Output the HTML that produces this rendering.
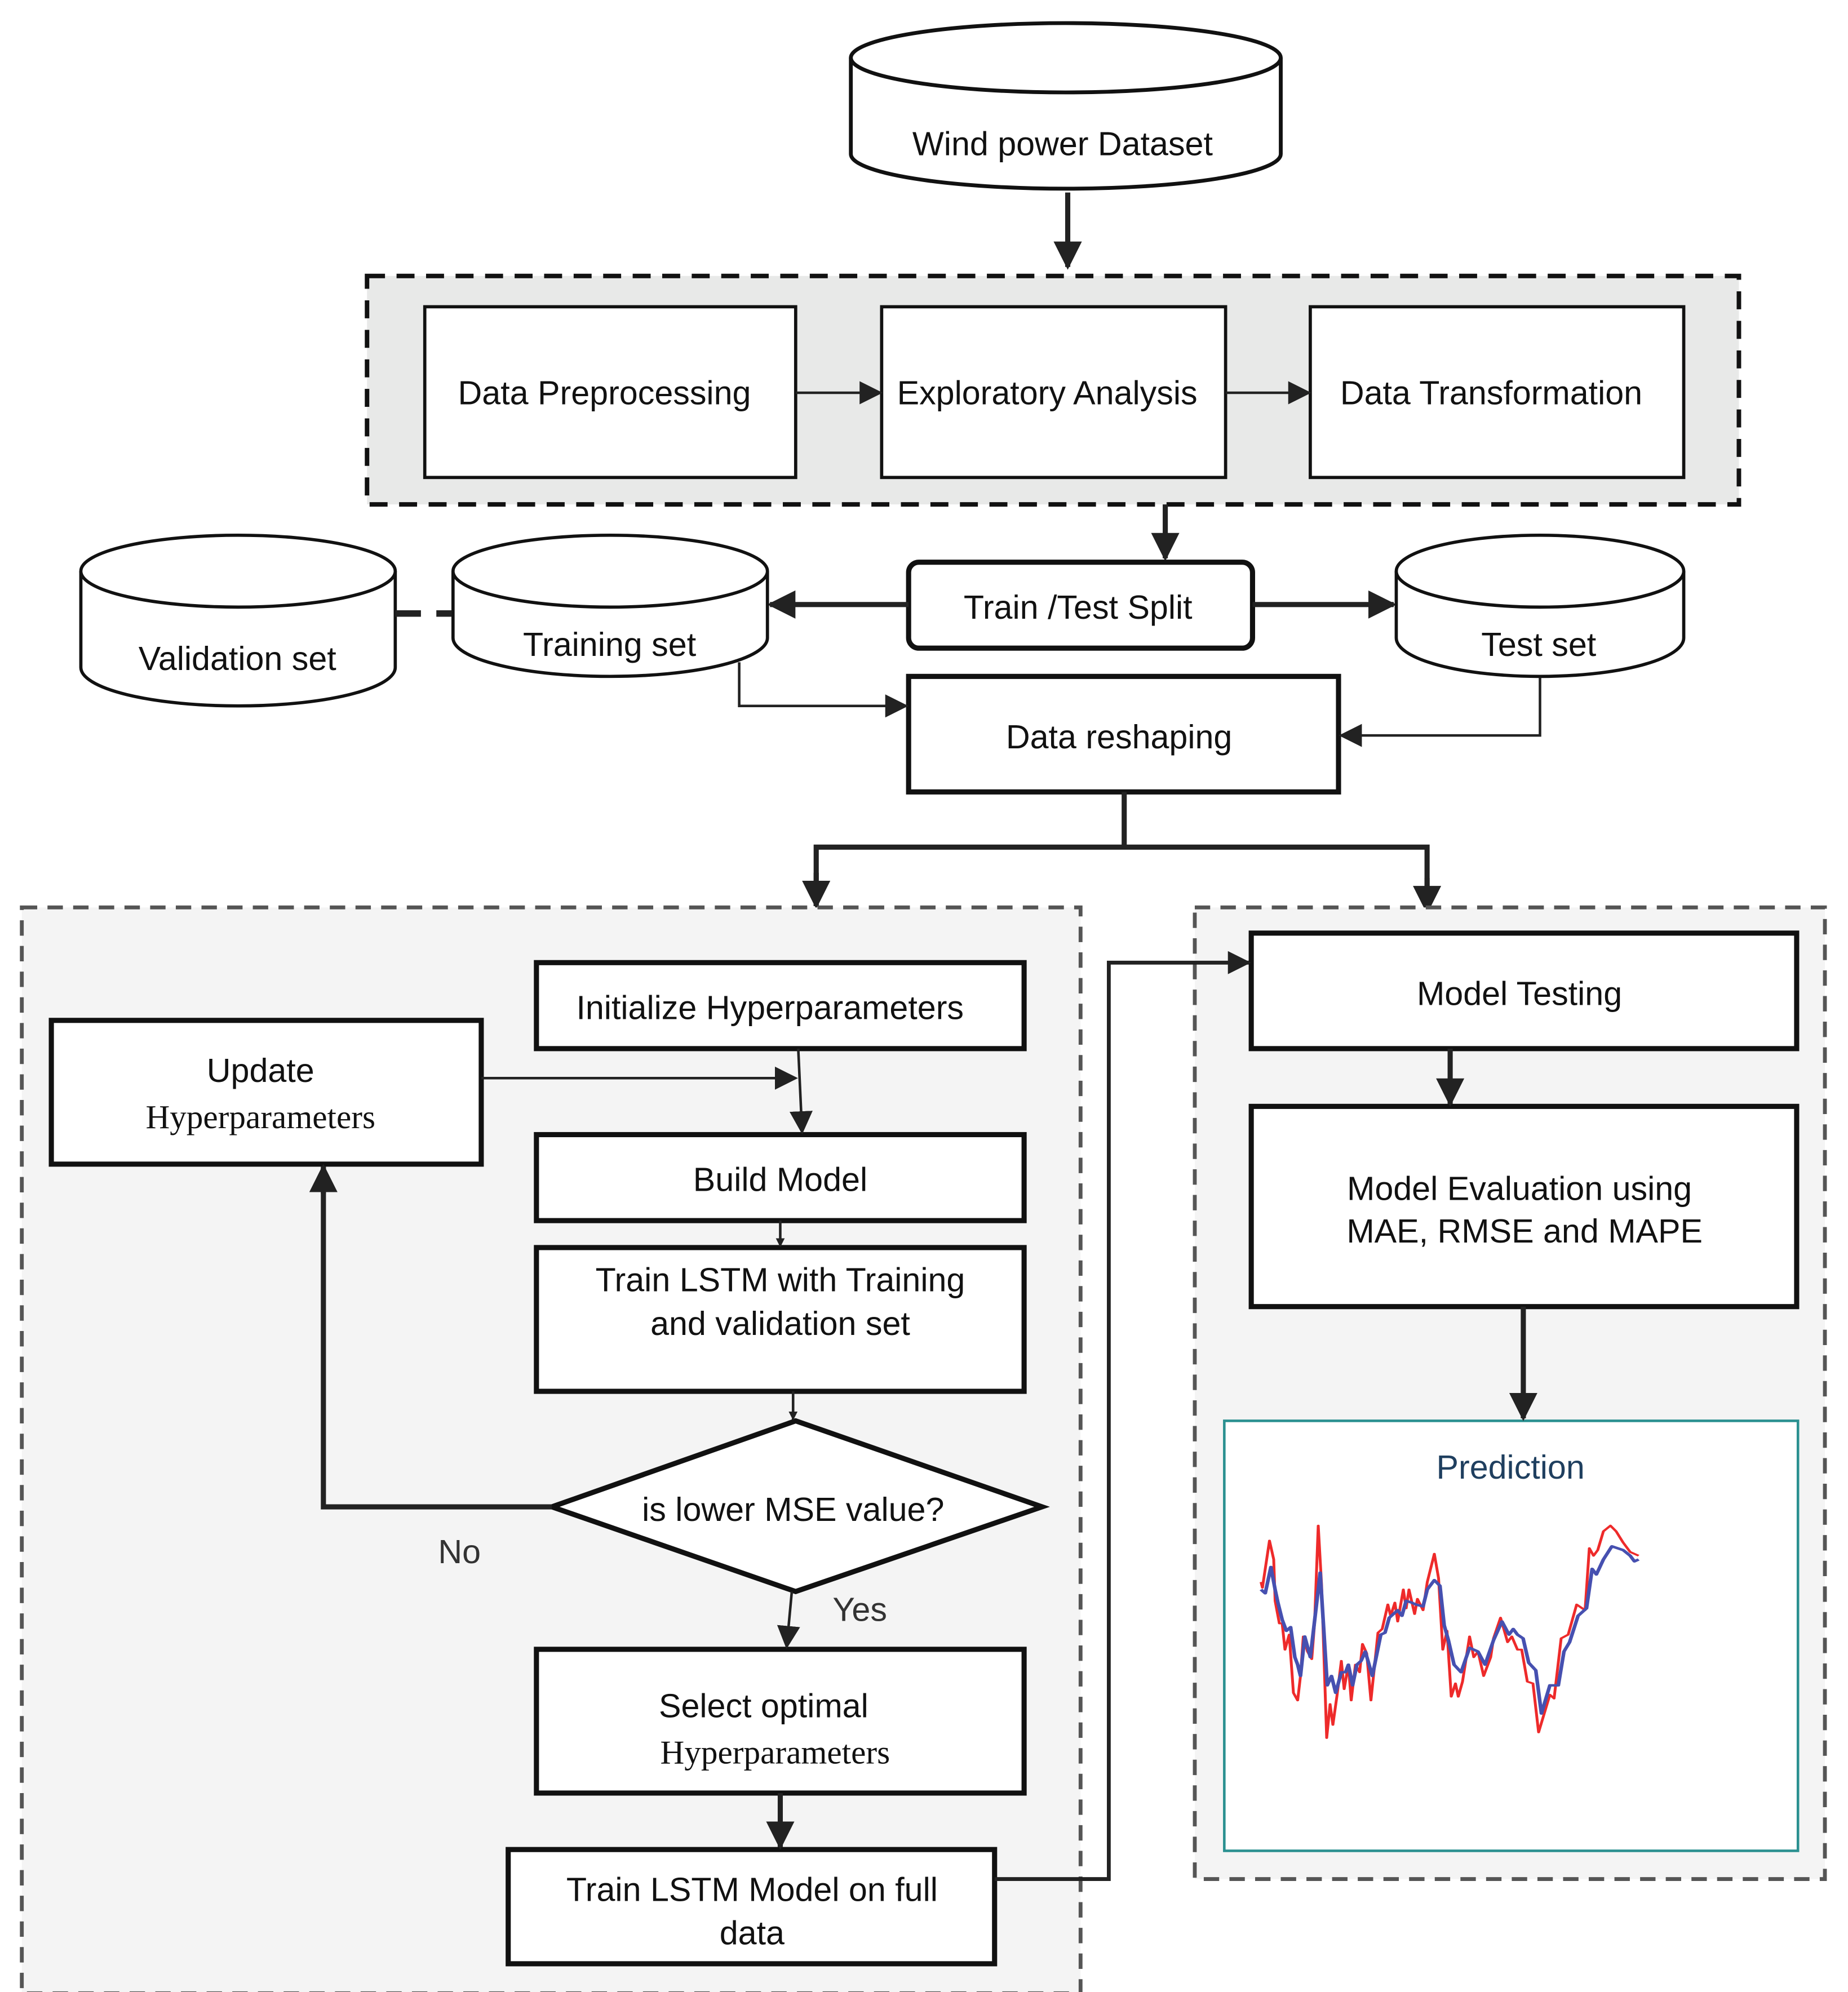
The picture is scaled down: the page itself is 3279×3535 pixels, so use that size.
<!DOCTYPE html>
<html><head><meta charset="utf-8"><style>
html,body{margin:0;padding:0;background:#fff}
svg{display:block}
text{font-family:"Liberation Sans",sans-serif;font-size:26px;fill:#111}
.s{font-family:"Liberation Serif",serif}
</style></head><body>
<svg width="3279" height="3535" viewBox="0 0 1440 1552" preserveAspectRatio="none" xmlns="http://www.w3.org/2000/svg">
<defs>
<marker id="a" viewBox="0 0 10 10" refX="9" refY="5" markerWidth="7" markerHeight="7" orient="auto" markerUnits="userSpaceOnUse"><path d="M0,0 L10,5 L0,10 z" fill="#222"/></marker>
<marker id="A" viewBox="0 0 10 10" refX="9" refY="5" markerWidth="22" markerHeight="22" orient="auto" markerUnits="userSpaceOnUse"><path d="M0,0 L10,5 L0,10 z" fill="#222"/></marker>
<marker id="m" viewBox="0 0 10 10" refX="9" refY="5" markerWidth="18" markerHeight="18" orient="auto" markerUnits="userSpaceOnUse"><path d="M0,0 L10,5 L0,10 z" fill="#222"/></marker>
</defs>
<g stroke="#111" stroke-width="3" fill="#fff">
<path d="M663,45 V120 A167.5,27 0 0 0 998,120 V45"/>
<ellipse cx="830.5" cy="45" rx="167.5" ry="27"/>
</g>
<text x="828" y="121" text-anchor="middle">Wind power Dataset</text>
<line x1="832" y1="150" x2="832" y2="208" stroke="#222" stroke-width="4" marker-end="url(#A)"/>
<rect x="286" y="215" width="1069" height="178" fill="#e8e9e8" stroke="#111" stroke-width="3.5" stroke-dasharray="14,9"/>
<g stroke="#111" stroke-width="2.5" fill="#fff">
<rect x="331" y="239" width="289" height="133"/>
<rect x="687" y="239" width="268" height="133"/>
<rect x="1021" y="239" width="291" height="133"/>
</g>
<text x="471" y="315" text-anchor="middle">Data Preprocessing</text>
<text x="816" y="315" text-anchor="middle">Exploratory Analysis</text>
<text x="1162" y="315" text-anchor="middle">Data Transformation</text>
<line x1="620" y1="306" x2="686" y2="306" stroke="#222" stroke-width="2" marker-end="url(#m)"/>
<line x1="955" y1="306" x2="1020" y2="306" stroke="#222" stroke-width="2" marker-end="url(#m)"/>
<line x1="908" y1="393" x2="908" y2="435" stroke="#222" stroke-width="4" marker-end="url(#A)"/>
<rect x="708" y="438" width="268" height="67" rx="8" fill="#fff" stroke="#111" stroke-width="4"/>
<text x="840" y="482" text-anchor="middle">Train /Test  Split</text>
<line x1="708" y1="471" x2="600" y2="471" stroke="#222" stroke-width="4" marker-end="url(#A)"/>
<line x1="976" y1="471" x2="1086" y2="471" stroke="#222" stroke-width="4" marker-end="url(#A)"/>
<g stroke="#111" stroke-width="2.5" fill="#fff">
<path d="M353,445 V497 A122.5,30 0 0 0 598,497 V445"/><ellipse cx="475.5" cy="445" rx="122.5" ry="28"/>
<path d="M63,445 V520 A122.5,30 0 0 0 308,520 V445"/><ellipse cx="185.5" cy="445" rx="122.5" ry="28"/>
<path d="M1088,445 V497 A112,30 0 0 0 1312,497 V445"/><ellipse cx="1200" cy="445" rx="112" ry="28"/>
</g>
<text x="475" y="511" text-anchor="middle">Training set</text>
<text x="185" y="522" text-anchor="middle">Validation set</text>
<text x="1199" y="511" text-anchor="middle">Test set</text>
<line x1="308" y1="478" x2="352" y2="478" stroke="#222" stroke-width="5" stroke-dasharray="20,12"/>
<rect x="708" y="527" width="335" height="90" fill="#fff" stroke="#111" stroke-width="4"/>
<text x="872" y="583" text-anchor="middle">Data reshaping</text>
<polyline points="576,516 576,550 706,550" fill="none" stroke="#222" stroke-width="2" marker-end="url(#m)"/>
<polyline points="1200,528 1200,573 1045,573" fill="none" stroke="#222" stroke-width="2" marker-end="url(#m)"/>
<line x1="876" y1="617" x2="876" y2="660" stroke="#222" stroke-width="4"/>
<polyline points="636,706 636,660 1112,660 1112,710" fill="none" stroke="#222" stroke-width="4"/>
<line x1="636" y1="680" x2="636" y2="706" stroke="#222" stroke-width="4" marker-end="url(#A)"/>
<line x1="1112" y1="684" x2="1112" y2="710" stroke="#222" stroke-width="4" marker-end="url(#A)"/>
<rect x="17" y="707" width="825" height="846" fill="#f4f4f4" stroke="#555" stroke-width="3" stroke-dasharray="12,8"/>
<rect x="931" y="707" width="491" height="757" fill="#f4f4f4" stroke="#555" stroke-width="3" stroke-dasharray="12,8"/>
<g stroke="#111" stroke-width="4" fill="#fff">
<rect x="418" y="750" width="380" height="67"/>
<rect x="40" y="795" width="335" height="112"/>
<rect x="418" y="884" width="380" height="67"/>
<rect x="418" y="972" width="380" height="112"/>
<polygon points="430,1174 620,1107 812,1174 620,1240"/>
<rect x="418" y="1285" width="380" height="112"/>
<rect x="396" y="1441" width="379" height="89"/>
<rect x="975" y="727" width="425" height="90"/>
<rect x="975" y="862" width="425" height="156"/>
</g>
<rect x="954" y="1107" width="447" height="335" fill="#fff" stroke="#2a9090" stroke-width="2"/>
<text x="600" y="794" text-anchor="middle" font-size="27">Initialize Hyperparameters</text>
<text x="203" y="843" text-anchor="middle" font-size="28">Update</text>
<text class="s" x="203" y="879" text-anchor="middle" font-size="28">Hyperparameters</text>
<text x="608" y="928" text-anchor="middle">Build Model</text>
<text x="608" y="1006" text-anchor="middle" font-size="27">Train LSTM with Training</text>
<text x="608" y="1040" text-anchor="middle" font-size="27">and validation set</text>
<text x="618" y="1185" text-anchor="middle">is lower MSE value?</text>
<text x="358" y="1218" text-anchor="middle" style="fill:#333">No</text>
<text x="670" y="1263" text-anchor="middle" style="fill:#333">Yes</text>
<text x="595" y="1338" text-anchor="middle" font-size="28">Select optimal</text>
<text class="s" x="604" y="1374" text-anchor="middle" font-size="28">Hyperparameters</text>
<text x="586" y="1481" text-anchor="middle" font-size="27">Train LSTM Model on full</text>
<text x="586" y="1515" text-anchor="middle" font-size="27">data</text>
<text x="1184" y="783" text-anchor="middle" font-size="27">Model Testing</text>
<text x="1184" y="935" text-anchor="middle">Model Evaluation  using</text>
<text x="1188" y="968" text-anchor="middle">MAE, RMSE and MAPE</text>
<text x="1177" y="1152" text-anchor="middle" style="fill:#1f3f5f">Prediction</text>
<line x1="375" y1="840" x2="620" y2="840" stroke="#222" stroke-width="2" marker-end="url(#m)"/>
<line x1="622" y1="817" x2="625" y2="882" stroke="#222" stroke-width="2" marker-end="url(#m)"/>
<line x1="608" y1="951" x2="608" y2="971" stroke="#222" stroke-width="2" marker-end="url(#a)"/>
<line x1="618" y1="1084" x2="618" y2="1106" stroke="#222" stroke-width="2" marker-end="url(#a)"/>
<polyline points="430,1174 252,1174 252,910" fill="none" stroke="#222" stroke-width="4"/>
<line x1="252" y1="930" x2="252" y2="909" stroke="#222" stroke-width="4" marker-end="url(#A)"/>
<line x1="617" y1="1240" x2="613" y2="1283" stroke="#222" stroke-width="2" marker-end="url(#m)"/>
<line x1="608" y1="1397" x2="608" y2="1439" stroke="#222" stroke-width="4" marker-end="url(#A)"/>
<polyline points="775,1464 864,1464 864,750 973,750" fill="none" stroke="#222" stroke-width="3" marker-end="url(#m)"/>
<line x1="1130" y1="817" x2="1130" y2="860" stroke="#222" stroke-width="4" marker-end="url(#A)"/>
<line x1="1187" y1="1018" x2="1187" y2="1105" stroke="#222" stroke-width="4" marker-end="url(#A)"/>
<g transform="scale(0.43916) translate(2200,2680) scale(0.5,0.33333)" fill="none" stroke-linejoin="round">
<polyline stroke="#ee2a2a" stroke-width="10" points="75,380 80,410 105,160 120,260 125,480 140,600 150,600 160,740 175,660 190,970 205,1010 215,880 225,670 240,750 255,790 265,600 278,80 290,400 308,1210 320,1030 330,1140 345,980 360,800 370,950 385,820 395,1010 410,820 425,860 435,710 450,760 465,1010 490,650 505,630 525,500 535,560 550,490 560,590 580,420 590,520 600,420 620,550 630,470 650,530 665,380 690,230 705,360 720,740 735,640 750,990 765,920 775,990 790,910 815,670 830,780 845,750 865,880 890,780 900,680 925,570 950,700 965,670 985,740 1000,740 1020,910 1040,920 1060,1180 1080,1080 1100,980 1115,1000 1140,680 1165,660 1195,500 1225,530 1240,200 1255,240 1270,210 1290,110 1315,80 1335,110 1360,170 1385,220 1415,240"/>
<polyline stroke="#4650b0" stroke-width="13" points="75,420 90,440 110,300 125,420 135,490 150,580 165,640 180,620 195,780 205,820 215,880 230,670 250,780 285,330 310,930 325,880 340,970 360,860 375,860 385,820 400,930 415,820 430,800 445,750 470,880 500,660 515,650 530,570 560,530 575,560 590,480 610,490 625,500 650,510 665,420 690,370 710,400 725,610 740,690 760,820 785,860 815,730 845,750 870,820 900,690 930,590 955,660 970,630 985,660 1005,680 1025,810 1050,850 1070,1080 1100,930 1130,930 1150,750 1170,700 1200,560 1230,520 1250,310 1265,340 1290,260 1320,190 1340,200 1360,210 1385,240 1400,270 1415,260"/>
</g>
</svg>
</body></html>
